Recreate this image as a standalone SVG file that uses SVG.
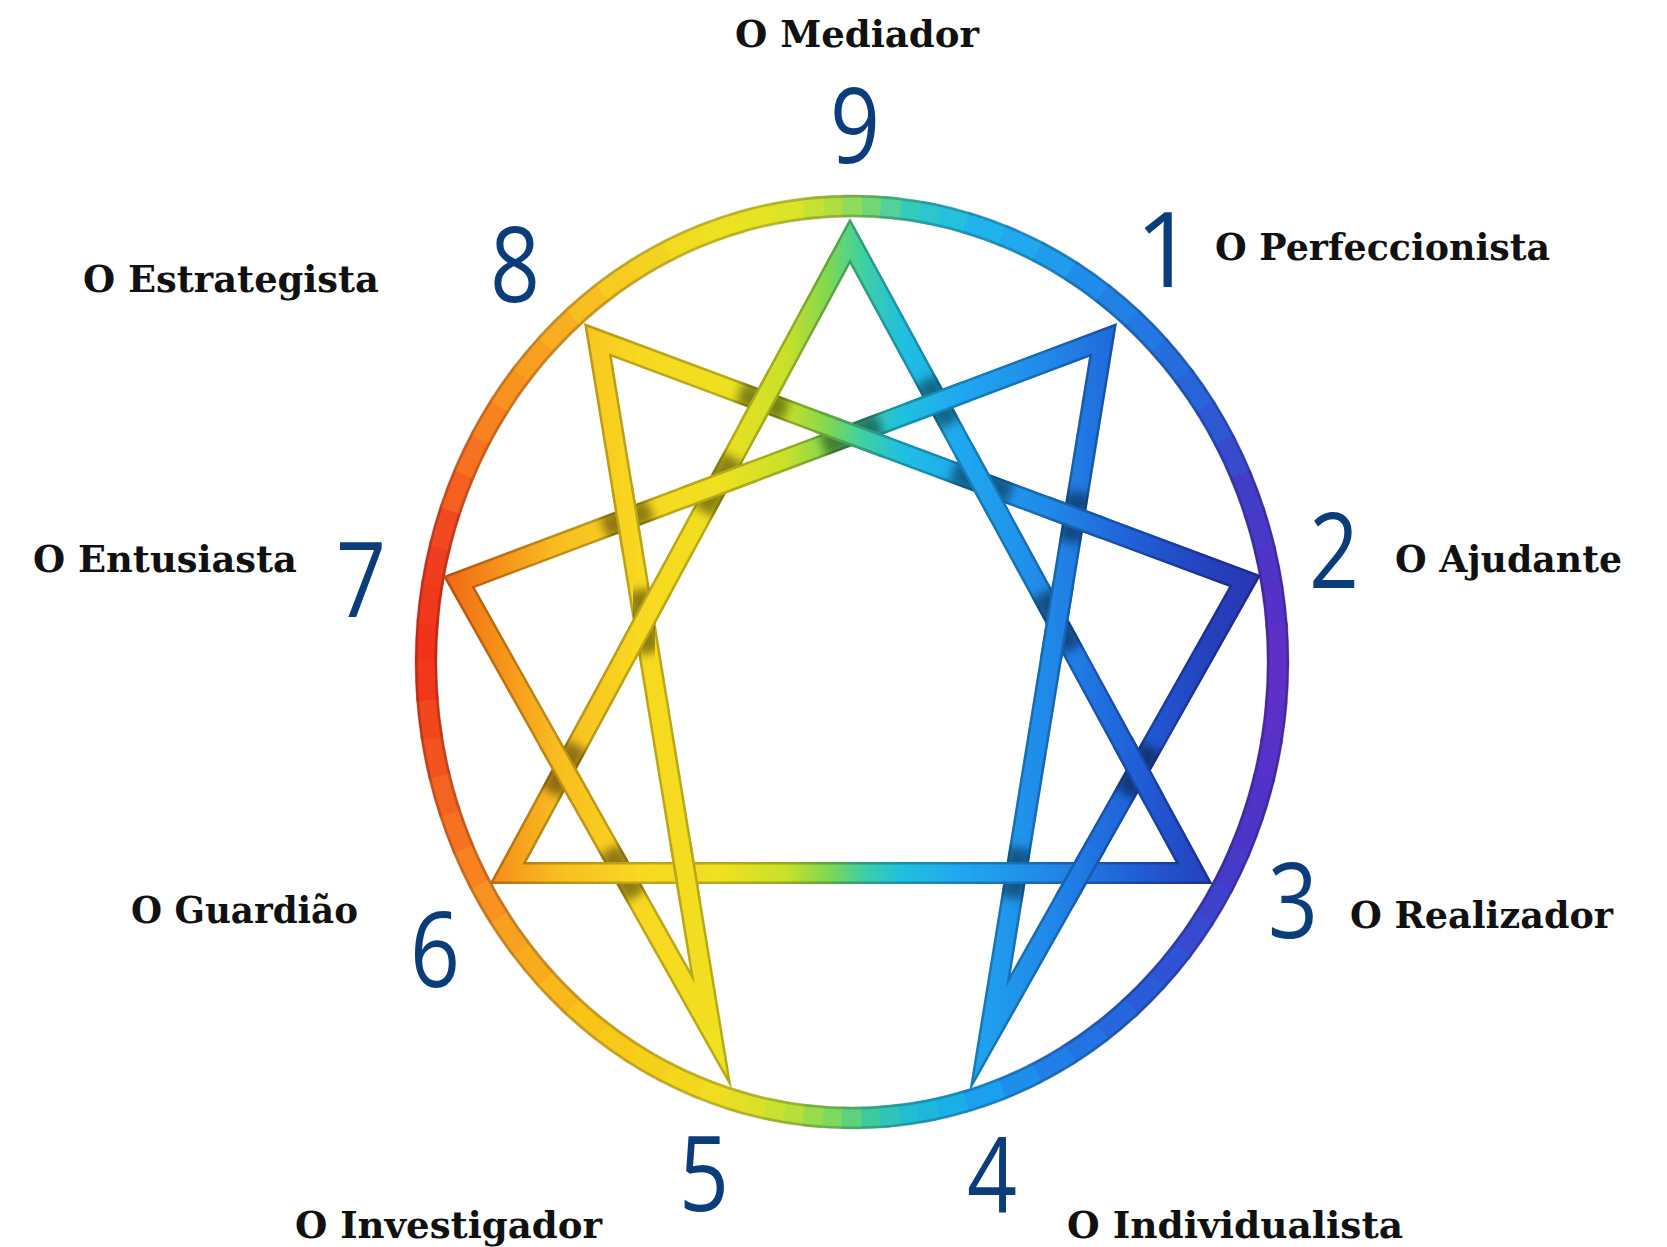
<svg xmlns="http://www.w3.org/2000/svg" width="1667" height="1247" viewBox="0 0 1667 1247">
<defs>
<style>
.lbl{font-family:"DejaVu Serif","Liberation Serif",serif;font-weight:bold;font-size:37px;fill:#111}
.num{font-family:"Open Sans","Noto Sans",sans-serif;font-size:104px;fill:#0b3d7a;text-anchor:middle}
.seg{fill:none;stroke-width:22;stroke-dasharray:5.6 354.4}
.mid{fill:none;stroke-width:22;stroke-dasharray:2.6 357.4}
.edge{fill:none;stroke:#000;stroke-opacity:0.2;stroke-width:3}
.w{fill:none;stroke:url(#g);stroke-width:22;stroke-linejoin:miter;stroke-miterlimit:12}
.k{fill:none;stroke:#000;stroke-opacity:0.24;stroke-width:22;stroke-linejoin:miter;stroke-miterlimit:12}
.n{fill:none;stroke:url(#g);stroke-width:17;stroke-linejoin:miter;stroke-miterlimit:12}
.sh{fill:none;stroke:#000;stroke-opacity:0.42;stroke-width:24}
.mk{stroke:#fff;stroke-width:22}
</style>
<path id="ring" d="M1278 662A426 456 0 1 1 426 662A426 456 0 1 1 1278 662Z" pathLength="360"/>
<linearGradient id="g" gradientUnits="userSpaceOnUse" x1="440" y1="0" x2="1265" y2="0">
<stop offset="0" stop-color="#f06418"/>
<stop offset="0.06" stop-color="#f58a18"/>
<stop offset="0.14" stop-color="#f8bc20"/>
<stop offset="0.24" stop-color="#f8d820"/>
<stop offset="0.34" stop-color="#f0e020"/>
<stop offset="0.42" stop-color="#c8e02a"/>
<stop offset="0.47" stop-color="#80d850"/>
<stop offset="0.51" stop-color="#40d0a0"/>
<stop offset="0.56" stop-color="#20c0e0"/>
<stop offset="0.63" stop-color="#20a8f0"/>
<stop offset="0.74" stop-color="#2088e8"/>
<stop offset="0.84" stop-color="#2060d8"/>
<stop offset="0.92" stop-color="#2444c0"/>
<stop offset="1" stop-color="#2a34b0"/>
</linearGradient>
<path id="tri" d="M850 241L1194 873L508 873Z"/>
<path id="hex" d="M1103 340L990 1033L1245 581L598 340L711 1030L459 582Z"/>
<path id="patch" d="M777.9 374.2L748.3 428.8M752.8 471.6L683.6 497.6M662.2 588.1L626.0 654.9M580.4 797.9L548.0 740.3M816.9 421.6L886.3 447.4M964.0 450.4L999.4 515.4M1045.1 506.5L1103.1 528.1M966.7 391.2L908.7 413.0M1063.2 583.9L1051.0 658.9M1122.4 741.4L1154.0 799.4M991.1 873L1041.1 873M680.3 842.4L690.3 903.6M596.7 873L648.7 873M1064.1 901.7L1096.5 844.3M622.3 488.2L632.3 549.4"/>
<path id="patchn" d="M779.3 371.6L746.9 431.4M755.6 470.5L680.8 498.7M663.6 585.4L624.6 657.6M581.9 800.5L546.5 737.7M814.1 420.6L889.1 448.4M962.6 447.8L1000.8 518.0M1042.2 505.4L1106.0 529.2M969.5 390.1L905.9 414.1M1063.7 580.9L1050.5 661.9M1121.0 738.8L1155.4 802.0M988.1 873L1044.1 873M679.8 839.4L690.8 906.6M593.7 873L651.7 873M1062.6 904.4L1098.0 841.6M621.8 485.2L632.8 552.4"/>
<filter id="blur" x="-50%" y="-50%" width="200%" height="200%"><feGaussianBlur stdDeviation="5"/></filter>
<mask id="mC" maskUnits="userSpaceOnUse" x="0" y="0" width="1667" height="1247"><line class="mk" x1="850" y1="241" x2="508" y2="873"/></mask>
<mask id="mA" maskUnits="userSpaceOnUse" x="0" y="0" width="1667" height="1247"><line class="mk" x1="850" y1="241" x2="1194" y2="873"/></mask>
<mask id="mB" maskUnits="userSpaceOnUse" x="0" y="0" width="1667" height="1247"><line class="mk" x1="508" y1="873" x2="1194" y2="873"/></mask>
<mask id="mF" maskUnits="userSpaceOnUse" x="0" y="0" width="1667" height="1247"><line class="mk" x1="598" y1="340" x2="1245" y2="581"/></mask>
<mask id="mG" maskUnits="userSpaceOnUse" x="0" y="0" width="1667" height="1247"><line class="mk" x1="598" y1="340" x2="711" y2="1030"/></mask>
<mask id="mI" maskUnits="userSpaceOnUse" x="0" y="0" width="1667" height="1247"><line class="mk" x1="1103" y1="340" x2="459" y2="582"/></mask>
<mask id="mD" maskUnits="userSpaceOnUse" x="0" y="0" width="1667" height="1247"><line class="mk" x1="1103" y1="340" x2="990" y2="1033"/></mask>
<mask id="mE" maskUnits="userSpaceOnUse" x="0" y="0" width="1667" height="1247"><line class="mk" x1="990" y1="1033" x2="1245" y2="581"/></mask>
<mask id="mH" maskUnits="userSpaceOnUse" x="0" y="0" width="1667" height="1247"><line class="mk" x1="711" y1="1030" x2="459" y2="582"/></mask>
</defs>
<rect width="1667" height="1247" fill="#ffffff"/>
<g id="ring-circle">
<use href="#ring" class="seg" stroke="#5e30c8" stroke-dashoffset="0"/>
<use href="#ring" class="seg" stroke="#5a31c8" stroke-dashoffset="-5"/>
<use href="#ring" class="seg" stroke="#5632c8" stroke-dashoffset="-10"/>
<use href="#ring" class="seg" stroke="#5133c8" stroke-dashoffset="-15"/>
<use href="#ring" class="seg" stroke="#4c36c8" stroke-dashoffset="-20"/>
<use href="#ring" class="seg" stroke="#463ac9" stroke-dashoffset="-25"/>
<use href="#ring" class="seg" stroke="#3f42cd" stroke-dashoffset="-30"/>
<use href="#ring" class="seg" stroke="#384acf" stroke-dashoffset="-35"/>
<use href="#ring" class="seg" stroke="#3052d4" stroke-dashoffset="-40"/>
<use href="#ring" class="seg" stroke="#2a5bd8" stroke-dashoffset="-45"/>
<use href="#ring" class="seg" stroke="#2667dd" stroke-dashoffset="-50"/>
<use href="#ring" class="seg" stroke="#2373e2" stroke-dashoffset="-55"/>
<use href="#ring" class="seg" stroke="#207fe8" stroke-dashoffset="-60"/>
<use href="#ring" class="seg" stroke="#1d8feb" stroke-dashoffset="-65"/>
<use href="#ring" class="seg" stroke="#1aa0ee" stroke-dashoffset="-70"/>
<use href="#ring" class="seg" stroke="#1bafe7" stroke-dashoffset="-75"/>
<use href="#ring" class="seg" stroke="#22bdd3" stroke-dashoffset="-80"/>
<use href="#ring" class="seg" stroke="#3dcb9d" stroke-dashoffset="-85"/>
<use href="#ring" class="seg" stroke="#7dd860" stroke-dashoffset="-90"/>
<use href="#ring" class="seg" stroke="#b4e038" stroke-dashoffset="-95"/>
<use href="#ring" class="seg" stroke="#dce028" stroke-dashoffset="-100"/>
<use href="#ring" class="seg" stroke="#f1dd1f" stroke-dashoffset="-105"/>
<use href="#ring" class="seg" stroke="#f3d71d" stroke-dashoffset="-110"/>
<use href="#ring" class="seg" stroke="#f5d01b" stroke-dashoffset="-115"/>
<use href="#ring" class="seg" stroke="#f7ca19" stroke-dashoffset="-120"/>
<use href="#ring" class="seg" stroke="#f8c219" stroke-dashoffset="-125"/>
<use href="#ring" class="seg" stroke="#f8b71b" stroke-dashoffset="-130"/>
<use href="#ring" class="seg" stroke="#f8ac1d" stroke-dashoffset="-135"/>
<use href="#ring" class="seg" stroke="#f8a120" stroke-dashoffset="-140"/>
<use href="#ring" class="seg" stroke="#f89120" stroke-dashoffset="-145"/>
<use href="#ring" class="seg" stroke="#f88220" stroke-dashoffset="-150"/>
<use href="#ring" class="seg" stroke="#f77220" stroke-dashoffset="-155"/>
<use href="#ring" class="seg" stroke="#f56320" stroke-dashoffset="-160"/>
<use href="#ring" class="seg" stroke="#f3531f" stroke-dashoffset="-165"/>
<use href="#ring" class="seg" stroke="#f2461c" stroke-dashoffset="-170"/>
<use href="#ring" class="seg" stroke="#f1381a" stroke-dashoffset="-175"/>
<use href="#ring" class="seg" stroke="#f03319" stroke-dashoffset="-180"/>
<use href="#ring" class="seg" stroke="#f0381c" stroke-dashoffset="-185"/>
<use href="#ring" class="seg" stroke="#f03d1f" stroke-dashoffset="-190"/>
<use href="#ring" class="seg" stroke="#f24a20" stroke-dashoffset="-195"/>
<use href="#ring" class="seg" stroke="#f56020" stroke-dashoffset="-200"/>
<use href="#ring" class="seg" stroke="#f87120" stroke-dashoffset="-205"/>
<use href="#ring" class="seg" stroke="#f88220" stroke-dashoffset="-210"/>
<use href="#ring" class="seg" stroke="#f89320" stroke-dashoffset="-215"/>
<use href="#ring" class="seg" stroke="#f89f20" stroke-dashoffset="-220"/>
<use href="#ring" class="seg" stroke="#f8ae20" stroke-dashoffset="-225"/>
<use href="#ring" class="seg" stroke="#f8bd20" stroke-dashoffset="-230"/>
<use href="#ring" class="seg" stroke="#f7cb20" stroke-dashoffset="-235"/>
<use href="#ring" class="seg" stroke="#f4d320" stroke-dashoffset="-240"/>
<use href="#ring" class="seg" stroke="#f1dc20" stroke-dashoffset="-245"/>
<use href="#ring" class="seg" stroke="#ede122" stroke-dashoffset="-250"/>
<use href="#ring" class="seg" stroke="#e6e325" stroke-dashoffset="-255"/>
<use href="#ring" class="seg" stroke="#dbe42a" stroke-dashoffset="-260"/>
<use href="#ring" class="seg" stroke="#afdf3e" stroke-dashoffset="-265"/>
<use href="#ring" class="seg" stroke="#70d774" stroke-dashoffset="-270"/>
<use href="#ring" class="seg" stroke="#33ccbb" stroke-dashoffset="-275"/>
<use href="#ring" class="seg" stroke="#25c0dd" stroke-dashoffset="-280"/>
<use href="#ring" class="seg" stroke="#20b4ed" stroke-dashoffset="-285"/>
<use href="#ring" class="seg" stroke="#20a9ef" stroke-dashoffset="-290"/>
<use href="#ring" class="seg" stroke="#209ced" stroke-dashoffset="-295"/>
<use href="#ring" class="seg" stroke="#208deb" stroke-dashoffset="-300"/>
<use href="#ring" class="seg" stroke="#2281e5" stroke-dashoffset="-305"/>
<use href="#ring" class="seg" stroke="#2478e2" stroke-dashoffset="-310"/>
<use href="#ring" class="seg" stroke="#266ede" stroke-dashoffset="-315"/>
<use href="#ring" class="seg" stroke="#2965da" stroke-dashoffset="-320"/>
<use href="#ring" class="seg" stroke="#2f59d4" stroke-dashoffset="-325"/>
<use href="#ring" class="seg" stroke="#394ace" stroke-dashoffset="-330"/>
<use href="#ring" class="seg" stroke="#423ec8" stroke-dashoffset="-335"/>
<use href="#ring" class="seg" stroke="#4939c8" stroke-dashoffset="-340"/>
<use href="#ring" class="seg" stroke="#5133c8" stroke-dashoffset="-345"/>
<use href="#ring" class="seg" stroke="#5730c8" stroke-dashoffset="-350"/>
<use href="#ring" class="seg" stroke="#5d30c8" stroke-dashoffset="-355"/>
<use href="#ring" class="mid" stroke="#1eb6dd" stroke-dashoffset="-78.75"/>
<use href="#ring" class="mid" stroke="#30c4b8" stroke-dashoffset="-83.75"/>
<use href="#ring" class="mid" stroke="#5dd27e" stroke-dashoffset="-88.75"/>
<use href="#ring" class="mid" stroke="#98dc4c" stroke-dashoffset="-93.75"/>
<use href="#ring" class="mid" stroke="#c8e030" stroke-dashoffset="-98.75"/>
<use href="#ring" class="mid" stroke="#e6de24" stroke-dashoffset="-103.75"/>
<use href="#ring" class="mid" stroke="#c5e234" stroke-dashoffset="-263.75"/>
<use href="#ring" class="mid" stroke="#90db59" stroke-dashoffset="-268.75"/>
<use href="#ring" class="mid" stroke="#52d298" stroke-dashoffset="-273.75"/>
<use href="#ring" class="mid" stroke="#2cc6cc" stroke-dashoffset="-278.75"/>
<ellipse class="edge" cx="852" cy="662" rx="436" ry="466"/>
<ellipse class="edge" cx="852" cy="662" rx="416" ry="446"/>
</g>
<g id="connectors">
<use href="#tri" class="w"/><use href="#tri" class="k"/><use href="#tri" class="n"/>
<use href="#hex" class="w"/><use href="#hex" class="k"/><use href="#hex" class="n"/>
<g mask="url(#mC)"><path class="sh" filter="url(#blur)" d="M732.9 457.5L703.5 511.7M577.0 745.4L551.4 792.8"/></g>
<g mask="url(#mF)"><path class="sh" filter="url(#blur)" d="M739.7 392.8L786.5 410.2M952.8 472.2L1010.6 493.6"/></g>
<g mask="url(#mG)"><path class="sh" filter="url(#blur)" d="M638.9 590.0L649.3 653.0"/></g>
<g mask="url(#mI)"><path class="sh" filter="url(#blur)" d="M880.3 423.7L822.9 445.3M650.9 509.9L603.7 527.7"/></g>
<g mask="url(#mA)"><path class="sh" filter="url(#blur)" d="M925.7 380.1L949.7 424.1M1041.9 593.5L1072.3 649.3"/></g>
<g mask="url(#mD)"><path class="sh" filter="url(#blur)" d="M1078.2 492.4L1070.0 542.2M1020.2 848.1L1012.0 897.9"/></g>
<g mask="url(#mE)"><path class="sh" filter="url(#blur)" d="M1125.0 793.8L1151.4 747.0"/></g>
<g mask="url(#mB)"><path class="sh" filter="url(#blur)" d="M666.1 873L704.5 873M1059.6 873L1101.0 873"/></g>
<g mask="url(#mH)"><path class="sh" filter="url(#blur)" d="M635.8 896.3L609.6 849.7"/></g>
<use href="#patch" class="w"/><use href="#patch" class="k"/><use href="#patchn" class="n"/>
</g>
<g id="type-9"><text class="num" x="855" y="163" textLength="50" lengthAdjust="spacingAndGlyphs">9</text><text class="lbl" x="735" y="47" textLength="244" lengthAdjust="spacingAndGlyphs">O Mediador</text></g>
<g id="type-1"><text class="num" x="1165" y="287">1</text><text class="lbl" x="1215" y="260" textLength="335" lengthAdjust="spacingAndGlyphs">O Perfeccionista</text></g>
<g id="type-2"><text class="num" x="1334" y="588" textLength="50" lengthAdjust="spacingAndGlyphs">2</text><text class="lbl" x="1395" y="572" textLength="227" lengthAdjust="spacingAndGlyphs">O Ajudante</text></g>
<g id="type-3"><text class="num" x="1293" y="938" textLength="50" lengthAdjust="spacingAndGlyphs">3</text><text class="lbl" x="1350" y="928" textLength="263" lengthAdjust="spacingAndGlyphs">O Realizador</text></g>
<g id="type-4"><text class="num" x="992" y="1212" textLength="50" lengthAdjust="spacingAndGlyphs">4</text><text class="lbl" x="1067" y="1238" textLength="336" lengthAdjust="spacingAndGlyphs">O Individualista</text></g>
<g id="type-5"><text class="num" x="704" y="1211" textLength="50" lengthAdjust="spacingAndGlyphs">5</text><text class="lbl" x="295" y="1238" textLength="307" lengthAdjust="spacingAndGlyphs">O Investigador</text></g>
<g id="type-6"><text class="num" x="435" y="987" textLength="50" lengthAdjust="spacingAndGlyphs">6</text><text class="lbl" x="131" y="923" textLength="227" lengthAdjust="spacingAndGlyphs">O Guardião</text></g>
<g id="type-7"><text class="num" x="361" y="617" textLength="50" lengthAdjust="spacingAndGlyphs">7</text><text class="lbl" x="33" y="572" textLength="264" lengthAdjust="spacingAndGlyphs">O Entusiasta</text></g>
<g id="type-8"><text class="num" x="515" y="302" textLength="50" lengthAdjust="spacingAndGlyphs">8</text><text class="lbl" x="83" y="292" textLength="296" lengthAdjust="spacingAndGlyphs">O Estrategista</text></g>
</svg>
